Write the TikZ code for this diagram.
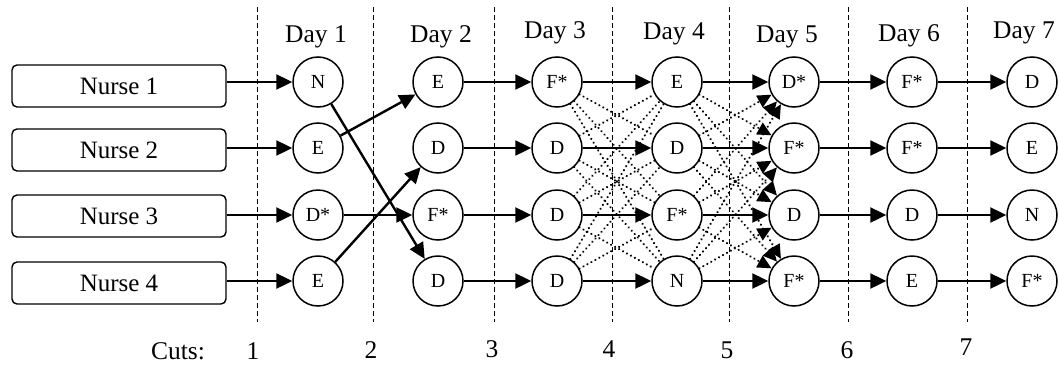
\documentclass[tikz,border=0pt]{standalone}
\usepackage{fontspec}
\setmainfont{Liberation Serif}
\usetikzlibrary{arrows.meta}
\tikzset{
 nurse/.style={draw, line width=1.4pt, rounded corners=5pt, minimum width=214pt, minimum height=42pt, inner sep=0pt, font=\fontsize{25}{25}\selectfont},
 daynode/.style={draw, circle, line width=1.5pt, minimum size=50pt, inner sep=0pt, font=\fontsize{20}{20}\selectfont},
 lbl/.style={font=\fontsize{25.5}{25.5}\selectfont, inner sep=0pt, anchor=base},
 arr/.style={line width=2.4pt, -{Triangle[length=16pt,width=15pt]}},
 dotline/.style={line width=2.4pt, line cap=round, dash pattern=on 0.01pt off 4.5pt},
 dotarr/.style={dotline, -{Triangle[length=14pt,width=13pt]}},
 cutline/.style={line width=1pt, dash pattern=on 5pt off 3pt},
}
\begin{document}
\begin{tikzpicture}[x=1pt,y=-1pt]
\useasboundingbox (0,0) rectangle (1059,367);
% cut lines
\foreach \i/\x in {1/257,2/373,3/494,4/612,5/729,6/848,7/967}{
  \coordinate (ct\i) at (\x,7);
  \coordinate (cb\i) at (\x,322);
  \draw[cutline] (ct\i) -- (cb\i);
}
% nurses
\foreach \r/\y in {1/86,2/150,3/216,4/283}{
  \node[nurse] (nurse\r) at (119,\y) {Nurse \r};
}
% day nodes
\foreach \d/\x/\a/\b/\c/\e in {1/318/N/E/D*/E, 2/438/E/D/F*/D, 3/557/F*/D/D/D, 4/677/E/D/F*/N, 5/794/D*/F*/D/F*, 6/912/F*/F*/D/E, 7/1032/D/E/N/F*}{
  \node[daynode] (n\d-1) at (\x,82) {\a};
  \node[daynode] (n\d-2) at (\x,148) {\b};
  \node[daynode] (n\d-3) at (\x,215) {\c};
  \node[daynode] (n\d-4) at (\x,281) {\e};
}
% day labels
\foreach \d/\x/\y in {1/316/42,2/441/42,3/555/38,4/674/39,5/787/42,6/909/41,7/1024/38}{
  \node[lbl] (day\d) at (\x,\y) {Day \d};
}
% cuts labels
\node[lbl] (cuts) at (178,359) {Cuts:};
\foreach \i/\x/\y in {1/253/359,2/371/358,3/492/357,4/609/357,5/727/358,6/847/358,7/966/355}{
  \node[lbl] (cutlbl\i) at (\x,\y) {\i};
}
% nurse arrows
\foreach \r in {1,...,4}{
  \draw[arr] (nurse\r.east |- n1-\r) -- (n1-\r);
}
% day1 -> day2
\draw[arr] (n1-1) -- (n2-4);
\draw[arr] (n1-2) -- (n2-1);
\draw[arr] (n1-3) -- (n2-3);
\draw[arr] (n1-4) -- (n2-2);
% straight arrows
\foreach \d/\e in {2/3,3/4,4/5,5/6,6/7}{
  \foreach \r in {1,...,4}{
    \draw[arr] (n\d-\r) -- (n\e-\r);
  }
}
% dotted alternatives
\foreach \i in {1,...,4}{
  \foreach \j in {1,...,4}{
    \ifnum\i=\j\else
      \draw[dotline] (n3-\i) -- (n4-\j);
      \draw[dotarr] (n4-\i) -- (n5-\j);
    \fi
  }
}
\end{tikzpicture}
\end{document}
